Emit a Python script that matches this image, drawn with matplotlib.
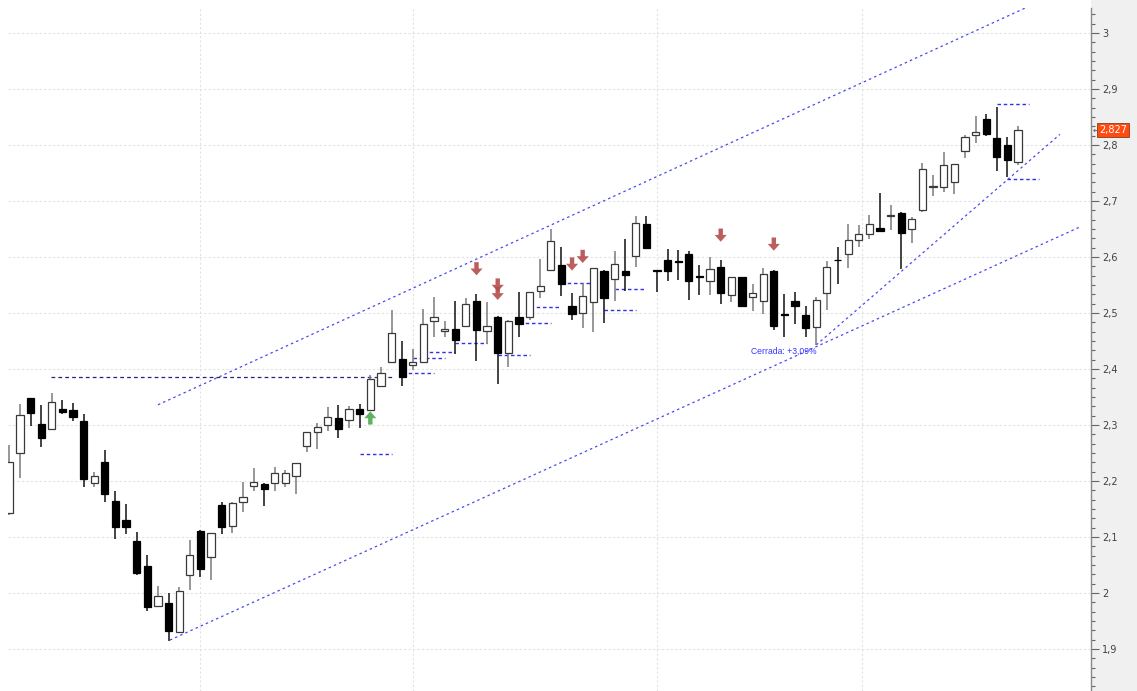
import matplotlib
matplotlib.use("Agg")
import matplotlib.pyplot as plt
from matplotlib.patches import Rectangle
from matplotlib.ticker import MultipleLocator, FuncFormatter

# daily candles
opens = [2.143, 2.2495, 2.348, 2.301, 2.293, 2.329, 2.327, 2.307, 2.196, 2.2345,
         2.164, 2.130, 2.092, 2.048, 1.977, 1.983, 1.930, 2.032, 2.111, 2.0637,
         2.157, 2.120, 2.163, 2.191, 2.194, 2.196, 2.196, 2.209, 2.263, 2.288,
         2.300, 2.312, 2.309, 2.329, 2.327, 2.370, 2.413, 2.418, 2.407, 2.412,
         2.486, 2.467, 2.471, 2.477, 2.521, 2.468, 2.492, 2.428, 2.492, 2.492,
         2.539, 2.576, 2.586, 2.5125, 2.500, 2.519, 2.5755, 2.561, 2.5755, 2.601,
         2.659, 2.576, 2.5946, 2.593, 2.605, 2.5665, 2.558, 2.582, 2.533, 2.5637,
         2.529, 2.522, 2.575, 2.497, 2.522, 2.496, 2.4755, 2.5363, 2.595, 2.605,
         2.630, 2.641, 2.652, 2.673, 2.679, 2.650, 2.684, 2.725, 2.7245, 2.7345,
         2.789, 2.818, 2.846, 2.813, 2.800, 2.770]
highs = [2.264, 2.3375, 2.349, 2.336, 2.358, 2.345, 2.339, 2.320, 2.2155, 2.255,
         2.182, 2.159, 2.109, 2.068, 2.0125, 2.0005, 2.011, 2.095, 2.112, 2.108,
         2.163, 2.163, 2.199, 2.2225, 2.196, 2.2245, 2.220, 2.233, 2.288, 2.303,
         2.332, 2.336, 2.3345, 2.3375, 2.389, 2.404, 2.505, 2.4505, 2.436, 2.508,
         2.528, 2.486, 2.521, 2.527, 2.534, 2.519, 2.494, 2.488, 2.538, 2.538,
         2.596, 2.650, 2.618, 2.536, 2.554, 2.581, 2.577, 2.611, 2.632, 2.674,
         2.674, 2.577, 2.614, 2.6125, 2.611, 2.586, 2.600, 2.595, 2.565, 2.565,
         2.551, 2.580, 2.576, 2.534, 2.538, 2.5125, 2.528, 2.592, 2.618, 2.6597,
         2.658, 2.675, 2.714, 2.692, 2.680, 2.672, 2.767, 2.746, 2.787, 2.766,
         2.818, 2.851, 2.855, 2.868, 2.814, 2.834]
lows = [2.139, 2.205, 2.299, 2.261, 2.292, 2.319, 2.308, 2.189, 2.190, 2.162,
        2.096, 2.105, 2.033, 1.967, 1.975, 1.915, 1.928, 2.005, 2.029, 2.023,
        2.105, 2.108, 2.145, 2.183, 2.156, 2.183, 2.189, 2.176, 2.251, 2.257,
        2.290, 2.276, 2.294, 2.294, 2.326, 2.369, 2.410, 2.370, 2.398, 2.410,
        2.457, 2.457, 2.427, 2.476, 2.415, 2.445, 2.374, 2.403, 2.457, 2.4875,
        2.526, 2.575, 2.531, 2.4875, 2.474, 2.4655, 2.4815, 2.5215, 2.540, 2.583,
        2.614, 2.538, 2.558, 2.559, 2.523, 2.532, 2.532, 2.516, 2.519, 2.512,
        2.504, 2.498, 2.470, 2.4566, 2.480, 2.4566, 2.443, 2.505, 2.551, 2.580,
        2.617, 2.632, 2.645, 2.649, 2.578, 2.6255, 2.681, 2.709, 2.716, 2.712,
        2.776, 2.804, 2.816, 2.754, 2.743, 2.764]
closes = [2.2345, 2.318, 2.321, 2.277, 2.341, 2.323, 2.315, 2.204, 2.209, 2.176,
          2.117, 2.118, 2.035, 1.9745, 1.995, 1.932, 2.004, 2.068, 2.042, 2.1077,
          2.118, 2.160, 2.172, 2.198, 2.185, 2.215, 2.214, 2.233, 2.287, 2.296,
          2.315, 2.293, 2.329, 2.319, 2.383, 2.392, 2.465, 2.386, 2.412, 2.480,
          2.492, 2.471, 2.452, 2.516, 2.470, 2.477, 2.429, 2.486, 2.480, 2.538,
          2.549, 2.629, 2.551, 2.498, 2.531, 2.580, 2.526, 2.587, 2.567, 2.661,
          2.6155, 2.575, 2.5755, 2.591, 2.557, 2.5638, 2.578, 2.535, 2.5637, 2.5125,
          2.535, 2.570, 2.477, 2.496, 2.5125, 2.4727, 2.523, 2.582, 2.594, 2.631,
          2.641, 2.659, 2.647, 2.674, 2.642, 2.667, 2.757, 2.726, 2.764, 2.766,
          2.815, 2.823, 2.819, 2.778, 2.773, 2.827]

# trend lines: (start index, start price, end index, end price)
upper_channel = (14.0, 2.336, 95.85, 3.046)
lower_channel = (15.13, 1.916, 101.0, 2.655)
steep_line = (76.0, 2.443, 98.95, 2.819)

# old resistance line
res_level = 2.386
res_start, res_end = 3.9, 36.0

# short support / resistance marks (start candle, price)
mark_start = [33, 37, 38, 39, 42, 46, 48, 49, 52, 56, 57, 93, 94]
mark_level = [2.248, 2.392, 2.419, 2.431, 2.447, 2.425, 2.482, 2.511, 2.554, 2.505,
              2.543, 2.873, 2.739]

# signal arrows
sell_idx = [44, 46, 46, 53, 54, 67, 72]
sell_y = [2.579, 2.550, 2.535, 2.5875, 2.601, 2.639, 2.623]
buy_idx = [34]
buy_y = [2.3125]

last_price = 2.827
grid_x = [18, 38, 61, 80.3]

fig = plt.figure(figsize=(11.37, 6.91), dpi=100)
fig.patches.append(Rectangle((1091 / 1137, 0), 46 / 1137, 1, transform=fig.transFigure,
                             facecolor="#f0f0f0", edgecolor="none", zorder=-5))
ax = fig.add_axes([8 / 1137, 0, 1083 / 1137, 1 - 8 / 691])
ax.set_facecolor("white")

n = len(opens)
xs = list(range(n))
up = [c >= o for o, c in zip(opens, closes)]

# wicks
ax.vlines(xs, lows, highs, colors=["#7a7a7a" if u else "#111111" for u in up],
          linewidth=1.1, zorder=3)
# bodies
bottoms = [min(o, c) for o, c in zip(opens, closes)]
heights = [max(abs(c - o), 0.0015) for o, c in zip(opens, closes)]
ax.bar(xs, heights, bottom=bottoms, width=0.68,
       color=["white" if u else "black" for u in up],
       edgecolor=["#3a3a3a" if u else "black" for u in up],
       linewidth=0.9, zorder=4)

# trend lines
blue = "#4a4af0"
for x0, y0, x1, y1 in [upper_channel, lower_channel, steep_line]:
    ax.plot([x0, x1], [y0, y1], color=blue, linewidth=0.9, linestyle=(0, (2, 2.5)), zorder=2)

ax.hlines(res_level, res_start, res_end, color="#23237a", linewidth=0.9,
          linestyle=(0, (3, 2.5)), zorder=2)
ax.hlines(mark_level, mark_start, [s + 3 for s in mark_start], color="#3030e8",
          linewidth=1.0, linestyle=(0, (2.5, 2)), zorder=2)

# arrows
down_arrow = [(-0.2, 0.6), (0.2, 0.6), (0.2, 0.02), (0.55, 0.02), (0, -0.6),
              (-0.55, 0.02), (-0.2, 0.02), (-0.2, 0.6)]
up_arrow = [(x, -y) for x, y in down_arrow]
ax.scatter(sell_idx, sell_y, marker=down_arrow, s=90, color="#b34d4a",
           edgecolors="none", alpha=0.9, zorder=5)
ax.scatter(buy_idx, buy_y, marker=up_arrow, s=90, color="#4caa4c",
           edgecolors="none", alpha=0.9, zorder=5)

ax.text(76.0, 2.432, "Cerrada: +3,09%", color="#3535ff", fontsize=6.2,
        family="Liberation Sans", ha="right", va="center", zorder=6)

# axes
ax.set_xlim((8 - 9.3) / 10.618, (1091 - 9.3) / 10.618)
ax.set_ylim(1.825, 3.0446)
ax.yaxis.tick_right()
ax.yaxis.set_major_locator(MultipleLocator(0.1))
ax.yaxis.set_minor_locator(MultipleLocator(0.1 / 6))
ax.yaxis.set_major_formatter(FuncFormatter(lambda v, p: f"{v:.1f}".rstrip("0").rstrip(".").replace(".", ",")))
ax.tick_params(axis="y", which="major", length=6, width=0.8, color="#666666",
               labelsize=7, labelcolor="#404040", pad=2)
ax.tick_params(axis="y", which="minor", length=3, width=0.8, color="#666666")
ax.set_xticks(grid_x)
ax.tick_params(axis="x", length=0, labelbottom=False)
ax.grid(True, which="major", color="#e2e2e2", linestyle=(0, (2, 2)), linewidth=0.8)
ax.set_axisbelow(True)
for side in ["top", "left", "bottom"]:
    ax.spines[side].set_visible(False)
ax.spines["right"].set_color("#888888")
ax.spines["right"].set_linewidth(1.0)

# last price tag
tr = ax.get_yaxis_transform()
ax.text(1.0075, last_price, f"{last_price:.3f}".replace(".", ","), transform=tr,
        ha="left", va="center", color="white", fontsize=7,
        bbox=dict(boxstyle="square,pad=0.2", facecolor="#ff4a12", edgecolor="#8a3a1a", linewidth=0.6),
        clip_on=False, zorder=10)
ax.text(1.0015, last_price, "\u2190", transform=tr, ha="left", va="center",
        color="#555555", fontsize=6, clip_on=False)

fig.savefig("out.png", dpi=100)
